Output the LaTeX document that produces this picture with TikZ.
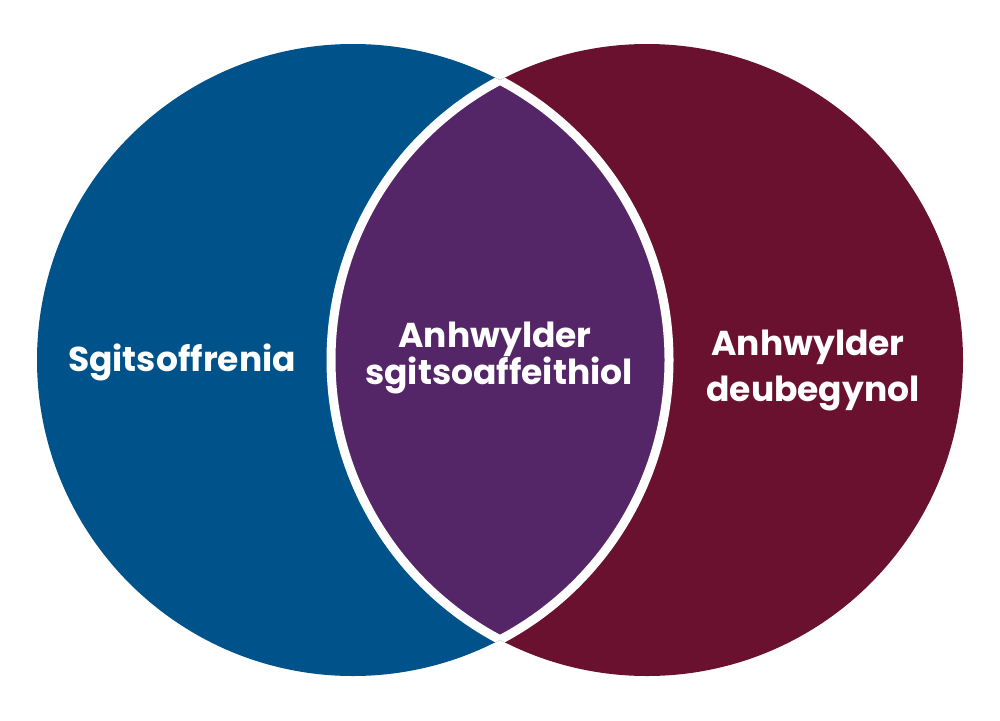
\documentclass[tikz,border=0pt]{standalone}
\usepackage{fontspec}
\setmainfont{Poppins}
\definecolor{cblue}{HTML}{00528B}
\definecolor{cred}{HTML}{6A1130}
\definecolor{cpurple}{HTML}{552667}
\begin{document}
\begin{tikzpicture}[x=1pt,y=-1pt,
  lbl/.style={text=white,font=\bfseries\fontsize{34.5}{40}\selectfont,anchor=base,inner sep=0pt},
  sep/.style={draw=white,line width=9pt}]
\useasboundingbox (0,0) rectangle (1000,720);
\coordinate (L) at (353,360);
\coordinate (R) at (647,360);
\fill[cblue] (L) circle (316);
\fill[cred] (R) circle (316);
\begin{scope}
  \clip (L) circle (316);
  \fill[cpurple] (R) circle (316);
\end{scope}
\begin{scope}
  \clip (R) circle (316);
  \draw[sep] (L) circle (316);
\end{scope}
\begin{scope}
  \clip (L) circle (316);
  \draw[sep] (R) circle (316);
\end{scope}
\node[lbl] (s) at (182,371) {Sgitsoffrenia};
\node[lbl] (a1) at (495,347) {Anhwylder};
\node[lbl] (a2) at (499,384) {sgitsoaffeithiol};
\node[lbl] (b1) at (808,355) {Anhwylder};
\node[lbl] (b2) at (813,401) {deubegynol};
\end{tikzpicture}
\end{document}
